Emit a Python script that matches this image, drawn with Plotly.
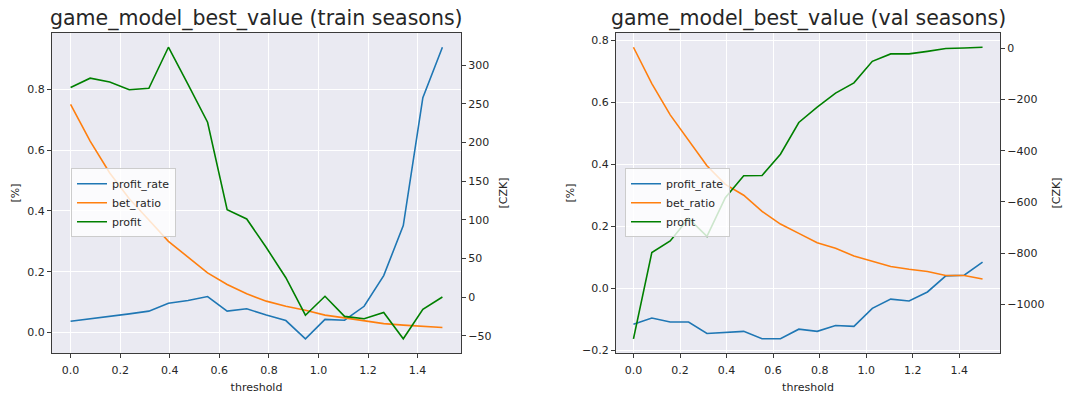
import plotly.graph_objects as go

# Threshold grid (20 evenly spaced values from 0 to 1.5)
threshold = [0.0, 0.0789, 0.1579, 0.2368, 0.3158, 0.3947, 0.4737, 0.5526, 0.6316, 0.7105,
             0.7895, 0.8684, 0.9474, 1.0263, 1.1053, 1.1842, 1.2632, 1.3421, 1.4211, 1.5]

# Train seasons
train_profit_rate = [0.037, 0.045, 0.051, 0.061, 0.070, 0.096, 0.105, 0.118, 0.070, 0.078,
                     0.057, 0.039, -0.021, 0.043, 0.040, 0.086, 0.187, 0.352, 0.773, 0.939]
train_bet_ratio = [0.751, 0.630, 0.525, 0.440, 0.370, 0.300, 0.248, 0.196, 0.158, 0.127,
                   0.103, 0.086, 0.073, 0.057, 0.048, 0.038, 0.029, 0.024, 0.021, 0.016]
train_profit = [271, 283, 278, 268, 270, 323, 275, 226, 113, 101,
                64, 25, -23.5, 1, -25, -28, -20, -54, -16, 0]

# Validation seasons
val_profit_rate = [-0.115, -0.095, -0.108, -0.108, -0.145, -0.141, -0.138, -0.162, -0.162, -0.131,
                   -0.138, -0.119, -0.122, -0.064, -0.034, -0.040, -0.011, 0.041, 0.043, 0.085]
val_bet_ratio = [0.778, 0.661, 0.560, 0.478, 0.396, 0.336, 0.301, 0.249, 0.208, 0.178,
                 0.148, 0.130, 0.105, 0.088, 0.071, 0.062, 0.055, 0.042, 0.042, 0.031]
val_profit = [-1135, -798, -753, -665, -735, -584, -498, -497, -414, -290,
              -230, -175, -135, -51, -22, -22, -12, -1, 1, 4]

x_ticks = [0.0, 0.2, 0.4, 0.6, 0.8, 1.0, 1.2, 1.4]

BLUE, ORANGE, GREEN = "#1f77b4", "#ff7f0e", "#008000"
BG = "#EAEAF2"
TXT = "#262626"
FRAME = "#3b3b3b"
FONT = "DejaVu Sans"
W, H = 1091, 394


def padded(*series, frac=0.05):
    lo = min(min(s) for s in series)
    hi = max(max(s) for s in series)
    pad = (hi - lo) * frac
    return [lo - pad, hi + pad]


fig = go.Figure()

panels = [
    dict(x="x", yl="y", yr="y2", legend="legend",
         rate=train_profit_rate, ratio=train_bet_ratio, profit=train_profit),
    dict(x="x2", yl="y3", yr="y4", legend="legend2",
         rate=val_profit_rate, ratio=val_bet_ratio, profit=val_profit),
]

for p in panels:
    fig.add_trace(go.Scatter(x=threshold, y=p["rate"], name="profit_rate", mode="lines",
                             line=dict(color=BLUE, width=1.6), xaxis=p["x"], yaxis=p["yl"],
                             legend=p["legend"]))
    fig.add_trace(go.Scatter(x=threshold, y=p["ratio"], name="bet_ratio", mode="lines",
                             line=dict(color=ORANGE, width=1.6), xaxis=p["x"], yaxis=p["yl"],
                             legend=p["legend"]))
    fig.add_trace(go.Scatter(x=threshold, y=p["profit"], name="profit", mode="lines",
                             line=dict(color=GREEN, width=1.6), xaxis=p["x"], yaxis=p["yr"],
                             legend=p["legend"]))

# Plot-area geometry in pixels
L1, R1 = 52, 461
L2, R2 = 616, 1000
TOP, BOT = 33, 357
ydom = [1 - BOT / H, 1 - TOP / H]

tickfont = dict(family=FONT, size=11, color=TXT)
labelfont = dict(family=FONT, size=11, color=TXT)

xcommon = dict(range=padded(threshold), tickvals=x_ticks, tickformat=".1f",
               showgrid=True, gridcolor="white", gridwidth=1, zeroline=False,
               showline=True, linecolor=FRAME, linewidth=1, mirror=True,
               ticks="outside", ticklen=4, tickcolor=FRAME, tickfont=tickfont,
               ticklabelstandoff=2,
               title=dict(text="threshold", font=labelfont, standoff=9))

yleft = dict(showgrid=True, gridcolor="white", zeroline=False,
             showline=True, linecolor=FRAME, linewidth=1,
             ticks="outside", ticklen=4, tickcolor=FRAME, tickfont=tickfont,
             tickformat=".1f", title=dict(text="[%]", font=labelfont, standoff=5))
yright = dict(side="right", showgrid=False, zeroline=False,
              showline=True, linecolor=FRAME, linewidth=1,
              ticks="outside", ticklen=4, tickcolor=FRAME, tickfont=tickfont,
              title=dict(text="[CZK]", font=labelfont, standoff=8))

legend_style = dict(xanchor="left", yanchor="top",
                    bgcolor="rgba(255,255,255,0.8)", bordercolor="#cccccc", borderwidth=1,
                    font=dict(family=FONT, size=11, color=TXT), tracegroupgap=0,
                    itemwidth=30)

fig.update_layout(
    width=W, height=H,
    margin=dict(l=0, r=0, t=0, b=0),
    paper_bgcolor="white",
    plot_bgcolor=BG,
    font=dict(family=FONT, color=TXT),
    xaxis=dict(domain=[L1 / W, R1 / W], anchor="y", **xcommon),
    xaxis2=dict(domain=[L2 / W, R2 / W], anchor="y3", **xcommon),
    yaxis=dict(domain=ydom, anchor="x",
               range=padded(train_profit_rate, train_bet_ratio),
               tickvals=[0.0, 0.2, 0.4, 0.6, 0.8], **yleft),
    yaxis2=dict(overlaying="y", anchor="x", range=padded(train_profit),
                tickvals=[-50, 0, 50, 100, 150, 200, 250, 300], **yright),
    yaxis3=dict(domain=ydom, anchor="x2",
                range=padded(val_profit_rate, val_bet_ratio),
                tickvals=[-0.2, 0.0, 0.2, 0.4, 0.6, 0.8], **yleft),
    yaxis4=dict(overlaying="y3", anchor="x2", range=padded(val_profit),
                tickvals=[-1000, -800, -600, -400, -200, 0], **yright),
    legend=dict(x=71 / W, y=1 - 170 / H, **legend_style),
    legend2=dict(x=625 / W, y=1 - 170 / H, **legend_style),
    annotations=[
        dict(text="game_model_best_value (train seasons)", x=(L1 + R1) / 2 / W, y=1 - 19 / H,
             xref="paper", yref="paper", xanchor="center", yanchor="middle",
             showarrow=False, font=dict(family=FONT, size=20.5, color=TXT)),
        dict(text="game_model_best_value (val seasons)", x=(L2 + R2) / 2 / W, y=1 - 19 / H,
             xref="paper", yref="paper", xanchor="center", yanchor="middle",
             showarrow=False, font=dict(family=FONT, size=20.5, color=TXT)),
    ],
)

fig.write_html("out.html")
